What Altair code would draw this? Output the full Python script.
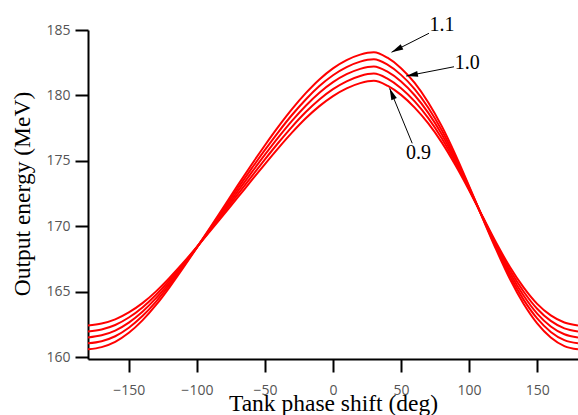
import math
import altair as alt
import pandas as pd

# Tank phase shift (deg)
phase = [-180, -170, -160, -150, -140, -130, -120, -110, -100, -90, -80, -70, -60,
         -50, -40, -30, -20, -10, 0, 10, 20, 30, 40, 50, 60, 70, 80, 90, 100,
         110, 120, 130, 140, 150, 160, 170, 180]

# Output energy (MeV) for field levels 0.9 ... 1.1
e_090 = [162.41, 162.56, 162.88, 163.41, 164.12, 165.02, 166.07, 167.21, 168.41, 169.66,
         170.93, 172.20, 173.48, 174.75, 175.99, 177.17, 178.25, 179.18, 179.95, 180.54,
         180.94, 181.12, 180.74, 180.04, 179.07, 177.86, 176.39, 174.66, 172.75, 170.72,
         168.71, 166.88, 165.32, 164.06, 163.18, 162.64, 162.41]
e_095 = [161.96, 162.11, 162.45, 163.02, 163.79, 164.76, 165.89, 167.12, 168.40, 169.73,
         171.08, 172.43, 173.78, 175.11, 176.40, 177.62, 178.73, 179.69, 180.48, 181.08,
         181.49, 181.67, 181.28, 180.55, 179.54, 178.26, 176.70, 174.86, 172.83, 170.69,
         168.58, 166.65, 165.01, 163.69, 162.76, 162.19, 161.96]
e_100 = [161.50, 161.66, 162.02, 162.63, 163.46, 164.50, 165.71, 167.02, 168.39, 169.80,
         171.23, 172.66, 174.08, 175.47, 176.81, 178.07, 179.21, 180.20, 181.01, 181.62,
         182.03, 182.21, 181.81, 181.06, 180.01, 178.66, 177.01, 175.06, 172.91, 170.66,
         168.45, 166.42, 164.70, 163.32, 162.34, 161.74, 161.50]
e_105 = [161.05, 161.21, 161.59, 162.24, 163.13, 164.24, 165.53, 166.93, 168.38, 169.87,
         171.38, 172.89, 174.38, 175.83, 177.22, 178.52, 179.69, 180.71, 181.54, 182.16,
         182.58, 182.76, 182.35, 181.57, 180.48, 179.06, 177.32, 175.26, 172.99, 170.63,
         168.32, 166.19, 164.39, 162.95, 161.92, 161.29, 161.05]
e_110 = [160.59, 160.76, 161.16, 161.85, 162.80, 163.98, 165.35, 166.83, 168.37, 169.94,
         171.53, 173.12, 174.68, 176.19, 177.63, 178.97, 180.17, 181.22, 182.07, 182.70,
         183.12, 183.30, 182.88, 182.08, 180.95, 179.46, 177.63, 175.46, 173.07, 170.60,
         168.19, 165.96, 164.08, 162.58, 161.50, 160.84, 160.59]

series_names = ["0.90", "0.95", "1.00", "1.05", "1.10"]
series_vals = [e_090, e_095, e_100, e_105, e_110]

# annotation labels and arrows (data coordinates)
ann_text = ["1.1", "1.0", "0.9"]
ann_text_x = [80.0, 98.7, 62.9]
ann_text_y = [185.38, 182.5, 175.57]
arrow_x0 = [70.5, 88.9, 58.2]
arrow_y0 = [184.75, 182.19, 176.34]
arrow_x1 = [43.0, 53.8, 41.6]
arrow_y1 = [183.3, 181.48, 180.54]

x_ticks = [-150, -100, -50, 0, 50, 100, 150]
y_ticks = [160, 165, 170, 175, 180, 185]

X_DOM = [-180, 180]
Y_DOM = [159.85, 185]
W, H = 490, 329

rows = []
for name, vals in zip(series_names, series_vals):
    for p, v in zip(phase, vals):
        rows.append({"phase": p, "energy": v, "level": name})
df = pd.DataFrame(rows)

kx = W / (X_DOM[1] - X_DOM[0])
ky = H / (Y_DOM[1] - Y_DOM[0])
angles = []
for a, b, c, d in zip(arrow_x0, arrow_y0, arrow_x1, arrow_y1):
    dx = (c - a) * kx
    dy = -(d - b) * ky
    angles.append(math.degrees(math.atan2(dx, -dy)) % 360)

arr = pd.DataFrame({"x0": arrow_x0, "y0": arrow_y0, "x1": arrow_x1, "y1": arrow_y1,
                    "ang": angles})
txt = pd.DataFrame({"x": ann_text_x, "y": ann_text_y, "t": ann_text})

xscale = alt.Scale(domain=X_DOM, nice=False, zero=False)
yscale = alt.Scale(domain=Y_DOM, nice=False, zero=False)

axis_common = dict(
    domainColor="black", domainWidth=2, tickColor="black", tickWidth=2, tickSize=13,
    labelFont="Open Sans", labelFontSize=14, labelColor="#555555",
    titleFont="Liberation Serif", titleFontSize=23.5, titleFontWeight="normal",
    titleColor="black", grid=False, titleBaseline="alphabetic",
)

x_enc = alt.X("phase:Q", scale=xscale,
              axis=alt.Axis(values=x_ticks, title="Tank phase shift (deg)",
                            labelPadding=11, titleX=245, titleY=51,
                            **axis_common))
y_enc = alt.Y("energy:Q", scale=yscale,
              axis=alt.Axis(values=y_ticks, title="Output energy (MeV)",
                            labelPadding=5, titleX=-59, titleY=163.5,
                            titleAngle=-90, **axis_common))

lines = alt.Chart(df).mark_line(color="#ff0000", strokeWidth=2,
                                interpolate="monotone").encode(
    x=x_enc, y=y_enc, detail="level:N")

rules = alt.Chart(arr).mark_rule(color="black", strokeWidth=1).encode(
    x=alt.X("x0:Q", scale=xscale), y=alt.Y("y0:Q", scale=yscale),
    x2="x1:Q", y2="y1:Q")

heads = alt.Chart(arr).mark_point(
    shape="M0,0L-0.45,1.8L0.45,1.8Z", filled=True, color="black", opacity=1,
    size=170, strokeWidth=0).encode(
    x=alt.X("x1:Q", scale=xscale), y=alt.Y("y1:Q", scale=yscale),
    angle=alt.Angle("ang:Q", scale=None))

labels = alt.Chart(txt).mark_text(font="Liberation Serif", fontSize=20,
                                  color="black", clip=False).encode(
    x=alt.X("x:Q", scale=xscale), y=alt.Y("y:Q", scale=yscale), text="t:N")

chart = alt.layer(lines, rules, heads, labels).properties(
    width=W, height=H,
    autosize=alt.AutoSizeParams(type="none"),
    padding={"left": 88, "top": 30, "right": 0, "bottom": 56},
    background="white",
).configure_view(stroke=None)

chart.save("out.html", embed_options={"renderer": "svg", "actions": False})
